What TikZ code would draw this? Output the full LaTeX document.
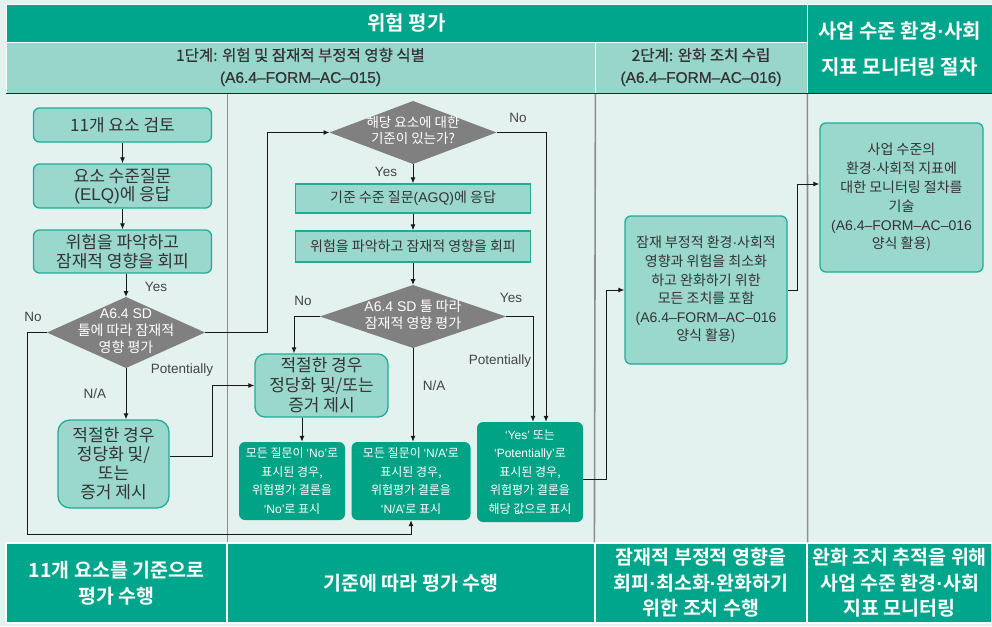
\documentclass[tikz,border=0pt]{standalone}
\usepackage{fontspec}
\setmainfont{Noto Sans CJK KR}[BoldFont={Noto Sans CJK KR Bold}]
\newfontfamily\lat{Liberation Sans}
\newfontfamily\krmed{Noto Sans CJK KR}[FakeBold=0.5]
\newfontfamily\latmed{Liberation Sans}[FakeBold=0.5]
\usetikzlibrary{arrows.meta,calc,shapes.geometric}
\definecolor{bg}{HTML}{E4F2EF}
\definecolor{hdark}{HTML}{00A68B}
\definecolor{hlight}{HTML}{98D6CB}
\definecolor{boxf}{HTML}{9AD7CC}
\definecolor{boxl}{HTML}{1DAF95}
\definecolor{gbox}{HTML}{00A386}
\definecolor{diag}{HTML}{808080}
\definecolor{divl}{HTML}{8E8E8E}
\definecolor{txt}{HTML}{333333}
\definecolor{labc}{HTML}{444444}
\newcommand\ql[1]{{\lat ‘#1’}}
\newcommand\dt{{\lat ·}}
\newcommand\dtxt[1]{\smash{\makebox[0pt]{\raisebox{-0.25em}{\begin{tabular}{@{}c@{}}#1\end{tabular}}}}}
\begin{document}
\begin{tikzpicture}[x=1pt,y=-1pt,
  hd/.style={fill=hdark,text=white,draw=white,line width=0.8pt,inner sep=0pt,align=center,font=\bfseries\fontsize{20}{36}\selectfont},
  hl/.style={fill=hlight,text=txt,draw=white,line width=0.8pt,inner sep=0pt,align=center,font=\krmed\fontsize{15.5}{22}\selectfont},
  bb/.style={fill=hdark,text=white,draw=white,line width=1.2pt,inner sep=0pt,align=center,font=\bfseries\fontsize{19.5}{25.5}\selectfont},
  lb/.style={rounded corners=6pt,fill=boxf,draw=boxl,line width=1.3pt,text=txt,align=center,inner sep=0pt,font=\fontsize{17}{18.5}\selectfont},
  rb/.style={fill=boxf,draw=boxl,line width=1.3pt,text=txt,align=center,inner sep=0pt,font=\fontsize{14}{16}\selectfont},
  gb/.style={rounded corners=6pt,fill=gbox,text=white,align=center,inner sep=0pt,font=\fontsize{12}{18.5}\selectfont},
  dia/.style={shape=diamond,fill=diag,text=white,inner sep=0pt,outer sep=0pt},
  lab/.style={font=\lat\fontsize{13.5}{15}\selectfont,text=labc,inner sep=0pt},
  arr/.style={-{Latex[length=6pt,width=5pt]},line width=1pt,draw=black!90},
  divider/.style={draw=divl,line width=1.6pt}]
\fill[bg] (0,0) rectangle (992,626);
\useasboundingbox (0,0) rectangle (992,626);
% header
\node[hd,minimum width=801pt,minimum height=38pt] (h1) at (406.5,23) {위험 평가};
\node[hl,minimum width=589pt,minimum height=51pt] (h2a) at (300.5,67.5) {\raisebox{-1.5pt}{\begin{tabular}{@{}c@{}}1단계: 위험 및 잠재적 부정적 영향 식별\\{\latmed (A6.4–FORM–AC–015)}\end{tabular}}};
\node[hl,minimum width=212pt,minimum height=51pt] (h2b) at (701,67.5) {\raisebox{-1.5pt}{\begin{tabular}{@{}c@{}}2단계: 완화 조치 수립\\{\latmed (A6.4–FORM–AC–016)}\end{tabular}}};
\node[hd,minimum width=185pt,minimum height=89pt] (h3) at (899.5,48.5) {사업 수준 환경\dt 사회\\지표 모니터링 절차};
% bottom band
\node[bb,minimum width=221pt,minimum height=80pt] (b1) at (116.5,583) {11개 요소를 기준으로\\평가 수행};
\node[bb,minimum width=368pt,minimum height=80pt] (b2) at (411,583) {기준에 따라 평가 수행};
\node[bb,minimum width=212pt,minimum height=80pt] (b3) at (701,583) {잠재적 부정적 영향을\\회피\dt 최소화\dt 완화하기\\위한 조치 수행};
\node[bb,minimum width=185pt,minimum height=80pt] (b4) at (899.5,583) {완화 조치 추적을 위해\\사업 수준 환경\dt 사회\\지표 모니터링};
% dividers
\draw[divider] (b1.north east |- h2a.south) -- (b1.north east);
\draw[divider] (h2a.south east) -- (b3.north west);
\draw[divider] (h2b.south east) -- (b3.north east);
\draw[line width=1.6pt,black!85] (h2a.south west) -- (h3.south east);
% left column
\node[lb,minimum width=178pt,minimum height=34pt] (n1) at (122.5,125) {11개 요소 검토};
\node[lb,minimum width=178pt,minimum height=44pt] (n2) at (122.5,186) {요소 수준질문\\{\lat (ELQ)}에 응답};
\node[lb,minimum width=178pt,minimum height=43pt] (n3) at (122.5,251.5) {위험을 파악하고\\잠재적 영향을 회피};
\node[dia,minimum width=158pt,minimum height=71pt,font=\fontsize{14}{17}\selectfont] (d1) at (126,332.5) {\dtxt{{\lat A6.4 SD}\\툴에 따라 잠재적\\영향 평가}};
\node[lb,rounded corners=12pt,minimum width=111pt,minimum height=88pt,font=\fontsize{17}{19}\selectfont] (n4) at (113.5,464) {적절한 경우\\정당화 및/\\또는\\증거 제시};
% middle column
\node[dia,minimum width=167pt,minimum height=63pt,font=\fontsize{13.5}{15}\selectfont] (d2) at (413,132.5) {\dtxt{해당 요소에 대한\\기준이 있는가?}};
\node[rb,minimum width=235pt,minimum height=29pt] (r1) at (413,198.5) {기준 수준 질문{\lat (AGQ)}에 응답};
\node[rb,minimum width=235pt,minimum height=31pt] (r2) at (413,246.5) {위험을 파악하고 잠재적 영향을 회피};
\node[dia,minimum width=186pt,minimum height=63pt,font=\fontsize{14}{16}\selectfont] (d3) at (413,316.5) {\dtxt{{\lat A6.4 SD} 툴 따라\\잠재적 영향 평가}};
\node[lb,rounded corners=10pt,minimum width=133pt,minimum height=63pt,font=\fontsize{17}{20}\selectfont] (n5) at (321.5,385.5) {적절한 경우\\정당화 및/또는\\증거 제시};
\node[gb,minimum width=106pt,minimum height=78pt] (g1) at (292,481) {모든 질문이 \ql{No}로\\표시된 경우,\\위험평가 결론을\\\ql{No}로 표시};
\node[gb,minimum width=119pt,minimum height=78pt] (g2) at (411,481) {모든 질문이 \ql{N/A}로\\표시된 경우,\\위험평가 결론을\\\ql{N/A}로 표시};
\node[gb,minimum width=106pt,minimum height=100pt] (g3) at (530,472) {\ql{Yes} 또는\\\ql{Potentially}로\\표시된 경우,\\위험평가 결론을\\해당 값으로 표시};
% right columns
\node[lb,minimum width=162pt,minimum height=148pt,font=\fontsize{14}{18.6}\selectfont] (s1) at (706,290) {잠재 부정적 환경\dt 사회적\\영향과 위험을 최소화\\하고 완화하기 위한\\모든 조치를 포함\\{\lat (A6.4–FORM–AC–016}\\양식 활용)};
\node[lb,minimum width=163pt,minimum height=149pt,font=\fontsize{14}{18.8}\selectfont] (m1) at (901.5,197.5) {사업 수준의\\환경\dt 사회적 지표에\\대한 모니터링 절차를\\기술\\{\lat (A6.4–FORM–AC–016}\\양식 활용)};
% labels
\node[lab] (yes1) at (156,287) {Yes};
\node[lab] (no1) at (33,317) {No};
\node[lab] (pot1) at (182,370) {Potentially};
\node[lab] (na1) at (95,394) {N/A};
\node[lab] (no2) at (518,118) {No};
\node[lab] (yes2) at (386,172) {Yes};
\node[lab] (no3) at (303,301) {No};
\node[lab] (yes3) at (511,298) {Yes};
\node[lab] (pot2) at (500,361) {Potentially};
\node[lab] (na2) at (434,386) {N/A};
% helper coordinates
\coordinate (lc) at (27,534);
\coordinate (t5) at ([xshift=-19.5pt]n5.south);
% connectors
\draw[arr] (n1) -- (n2);
\draw[arr] (n2) -- (n3);
\draw[arr] (n3.south -| d1.north) -- (d1.north);
\draw[arr] (d1.south) -- (d1.south |- n4.north);
\draw[arr] (d1.west) -| (lc) -| (g2.south);
\draw[arr] (d1.east) -- ++(62,0) |- (d2.west);
\draw[arr] ([yshift=8pt]n4.east) -- ++(43,0) |- (n5.west);
\draw[arr] (d2.south) -- (r1.north);
\draw[arr] (r1.south) -- (r2.north);
\draw[arr] (r2.south) -- (d3.north);
\draw[arr] (d2.east) -| ([xshift=16pt]g3.north);
\draw[arr] (d3.east) -| ([xshift=3pt]g3.north);
\draw[arr] (d3.west) -| ([xshift=-27.5pt]n5.north);
\draw[arr] (d3.south) -- (d3.south |- g2.north);
\draw[arr] (t5) -- (t5 |- g1.north);
\draw[arr] ([yshift=-7pt]g3.east) -- ++(23,0) |- (s1.west);
\draw[arr] (s1.east) -- ++(10,0) |- ([yshift=13.5pt]m1.west);
\end{tikzpicture}
\end{document}
